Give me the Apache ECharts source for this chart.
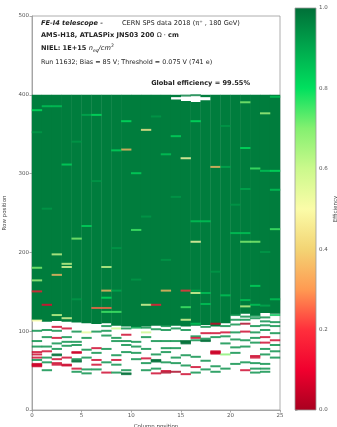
<!DOCTYPE html>
<html>
<head>
<meta charset="utf-8">
<script src="https://cdn.jsdelivr.net/npm/echarts@6/dist/echarts.min.js"></script>
<style>
  html, body { margin: 0; padding: 0; background: #fff; }
  #chart { width: 337px; height: 427px; }
</style>
</head>
<body>
<div id="chart"></div>
<script>
// pixel matrix: 25 columns x 400 rows
const nColumns = 25;
const rowTop = 400;
// first row of the fully populated block, per column
const denseStart = [114, 112, 113, 112, 111, 110, 109, 110, 107, 106, 105, 106, 107,
                    107, 107, 106, 107, 108, 106, 110, 121, 122, 120, 123, 122];
// empty rows at the top edge: [column, fromRow, toRow)
const topGaps = [[14, 394, 397], [15, 392, 398], [16, 391, 399], [17, 393, 397]];
// typical efficiency of a populated pixel
const baseEff = 0.975;

// pixels inside the block that deviate from baseEff: [column, row, efficiency]
const hotCells = [
  [24, 397, 0.85], [21, 390, 0.7], [1, 385, 0.85], [2, 385, 0.85], [0, 380, 0.8],
  [23, 376, 0.65], [5, 374, 0.9], [6, 374, 0.8], [9, 366, 0.8], [16, 366, 0.8],
  [11, 355, 0.45], [14, 347, 0.82], [21, 332, 0.8], [9, 330, 0.35], [8, 329, 0.82],
  [13, 324, 0.85], [15, 319, 0.5], [3, 311, 0.82], [18, 308, 0.35], [19, 308, 0.9],
  [22, 306, 0.75], [23, 303, 0.85], [24, 303, 0.8], [10, 300, 0.82], [24, 279, 0.85],
  [21, 280, 0.9], [16, 239, 0.85], [17, 239, 0.85], [5, 233, 0.82], [10, 228, 0.75],
  [24, 229, 0.75], [20, 224, 0.85], [21, 224, 0.85], [4, 217, 0.7], [16, 213, 0.5],
  [21, 213, 0.7], [22, 213, 0.7], [2, 197, 0.6], [3, 185, 0.6], [3, 181, 0.55],
  [0, 180, 0.7], [7, 181, 0.6], [2, 171, 0.35], [0, 164, 0.65], [22, 157, 0.82],
  [0, 150, 0.15], [7, 151, 0.35], [8, 151, 0.9], [13, 151, 0.35], [15, 151, 0.2],
  [16, 151, 0.9], [16, 148, 0.55], [17, 148, 0.85], [7, 142, 0.8], [24, 140, 0.85],
  [21, 139, 0.85], [19, 145, 0.85], [1, 133, 0.1], [11, 133, 0.55], [12, 133, 0.15],
  [17, 134, 0.85], [22, 133, 0.85], [6, 129, 0.25], [7, 129, 0.25], [15, 130, 0.75],
  [21, 131, 0.6], [23, 132, 0.9], [7, 124, 0.75], [8, 124, 0.75], [2, 120, 0.6],
  [3, 116, 0.55], [0, 113, 0.5],
  [0, 352, 0.93], [4, 340, 0.93], [12, 372, 0.93], [19, 360, 0.93], [6, 290, 0.93],
  [14, 270, 0.93], [1, 255, 0.93], [11, 245, 0.93], [20, 260, 0.93], [8, 205, 0.93],
  [13, 190, 0.93], [18, 175, 0.93], [23, 200, 0.93], [10, 165, 0.93], [4, 140, 0.93]
];

// isolated pixels below the block: [column, row, efficiency]
const sparseCells = [
  [0, 100, 0.95], [0, 87, 0.95], [0, 80, 0.95], [0, 73, 0.05], [0, 70, 0.05], [0, 66, 0.05],
  [0, 63, 0.95], [0, 58, 0.05], [0, 57, 0.05], [0, 56, 0.05], [0, 55, 0.05],
  [1, 101, 0.95], [1, 92, 0.95], [1, 80, 0.95], [1, 74, 0.05], [1, 66, 0.95],
  [1, 60, 0.95], [1, 50, 0.95],
  [2, 105, 0.05], [2, 100, 0.95], [2, 91, 0.05], [2, 84, 0.95], [2, 77, 0.95], [2, 70, 1.0],
  [2, 69, 1.0], [2, 64, 0.05], [2, 59, 0.05], [2, 57, 0.05],
  [3, 103, 0.05], [3, 92, 0.95], [3, 86, 0.95], [3, 81, 0.95], [3, 66, 0.05],
  [3, 57, 0.05], [3, 56, 0.05],
  [4, 99, 0.95], [4, 86, 0.95], [4, 82, 0.95], [4, 73, 0.05], [4, 72, 0.05],
  [4, 64, 0.95], [4, 62, 1.0], [4, 61, 1.0], [4, 52, 0.05], [4, 48, 0.95],
  [5, 98, 0.55], [5, 91, 0.95], [5, 76, 0.95], [5, 66, 0.95], [5, 51, 0.95],
  [5, 46, 0.95],
  [6, 99, 0.95], [6, 78, 0.05], [6, 72, 0.95], [6, 63, 0.05], [6, 57, 0.05],
  [6, 51, 0.95],
  [7, 106, 0.95], [7, 100, 0.95], [7, 94, 0.95], [7, 77, 0.95], [7, 60, 0.95], [7, 47, 0.05],
  [8, 103, 0.6], [8, 91, 0.95], [8, 87, 0.95], [8, 69, 0.95], [8, 63, 0.05],
  [8, 57, 0.95], [8, 47, 0.95],
  [9, 103, 0.95], [9, 95, 0.05], [9, 87, 0.95], [9, 82, 0.95], [9, 73, 0.95], [9, 50, 0.95],
  [9, 46, 1.0], [9, 45, 1.0],
  [10, 104, 0.9], [10, 86, 0.95], [10, 80, 0.95], [10, 72, 0.95], [10, 64, 0.95],
  [11, 104, 0.95], [11, 98, 0.6], [11, 92, 0.95], [11, 77, 0.95], [11, 65, 0.05], [11, 59, 0.95],
  [11, 50, 0.95],
  [12, 102, 0.95], [12, 87, 0.95], [12, 70, 0.95], [12, 63, 1.0], [12, 62, 1.0],
  [12, 61, 1.0], [12, 52, 0.95], [12, 46, 0.05],
  [13, 106, 0.95], [13, 101, 0.95], [13, 87, 0.95], [13, 78, 0.95], [13, 73, 0.95], [13, 60, 0.95],
  [13, 49, 0.05], [13, 47, 0.0],
  [14, 103, 0.95], [14, 87, 0.95], [14, 78, 0.95], [14, 66, 0.95], [14, 59, 0.95],
  [14, 48, 0.0],
  [15, 114, 0.55], [15, 101, 0.95], [15, 87, 1.0], [15, 86, 1.0], [15, 85, 1.0], [15, 84, 1.0],
  [15, 69, 0.95], [15, 56, 0.95], [15, 45, 0.05],
  [16, 109, 0.85], [16, 93, 0.95], [16, 91, 0.05], [16, 88, 0.95], [16, 67, 0.95],
  [16, 54, 0.05], [16, 47, 0.95],
  [17, 105, 0.95], [17, 97, 0.05], [17, 90, 0.95], [17, 88, 1.0], [17, 87, 1.0], [17, 62, 0.95],
  [17, 51, 0.95],
  [18, 109, 0.05], [18, 97, 0.05], [18, 92, 0.95], [18, 74, 0.05], [18, 73, 0.05], [18, 72, 0.05],
  [18, 71, 0.05], [18, 55, 0.95], [18, 48, 0.95],
  [19, 106, 0.95], [19, 98, 0.05], [19, 93, 0.95], [19, 84, 0.95], [19, 70, 0.7], [19, 52, 0.95],
  [20, 120, 0.95], [20, 114, 0.95], [20, 108, 0.95], [20, 98, 0.95], [20, 89, 0.95], [20, 79, 0.95],
  [20, 72, 0.95], [20, 58, 0.95],
  [21, 118, 0.95], [21, 114, 0.95], [21, 109, 0.0], [21, 99, 0.05], [21, 88, 0.95], [21, 80, 0.95],
  [21, 60, 0.95], [21, 50, 0.05],
  [22, 119, 0.95], [22, 116, 0.95], [22, 106, 0.95], [22, 98, 0.95], [22, 91, 0.95], [22, 85, 0.95],
  [22, 68, 0.05], [22, 66, 0.05], [22, 59, 0.95], [22, 52, 0.95], [22, 47, 0.95],
  [23, 117, 0.95], [23, 112, 0.95], [23, 107, 0.95], [23, 101, 0.95], [23, 92, 0.05], [23, 85, 0.05],
  [23, 77, 0.95], [23, 70, 0.95], [23, 58, 0.95], [23, 52, 0.95], [23, 48, 0.95],
  [24, 120, 0.85], [24, 111, 0.95], [24, 106, 0.95], [24, 97, 0.95], [24, 88, 0.05], [24, 82, 0.95],
  [24, 74, 0.95], [24, 66, 0.95]
];

// efficiency colour scale, evenly spaced from 0.0 to 1.0
const effColors = ['#a8001f', '#f0002e', '#ff2f3c', '#ff9a52', '#f3d474', '#fbfca8',
                   '#cbf98c', '#84f070', '#00e05e', '#00a84d', '#006f38'];

// populated blocks as runs [column, fromRow, toRow, efficiency]
const denseRuns = [];
for (let c = 0; c < nColumns; c++) {
  const gap = topGaps.find(g => g[0] === c);
  if (gap) {
    denseRuns.push([c, denseStart[c], gap[1], baseEff]);
    denseRuns.push([c, gap[2], rowTop, baseEff]);
  } else {
    denseRuns.push([c, denseStart[c], rowTop, baseEff]);
  }
}
const cellRuns = hotCells.concat(sparseCells).map(([c, r, e]) => [c, r, r + 1, e]);

const font = 'DejaVu Sans';
const textColor = '#222';

function renderCell(params, api) {
  const c = api.value(0);
  const tl = api.coord([c, api.value(2)]);
  const br = api.coord([c + 1, api.value(1)]);
  let y = tl[1];
  let h = br[1] - tl[1];
  let opacity = 1;
  // a single row is thinner than a screen pixel: draw it as a soft 2px line
  if (h < 2) { y -= (2 - h) / 2; h = 2; opacity = 0.8; }
  return {
    type: 'rect',
    shape: { x: tl[0] - 0.2, y: y, width: br[0] - tl[0] + 0.4, height: h },
    style: { fill: api.visual('color'), opacity: opacity }
  };
}

function renderColorbar(params, api) {
  const tl = api.coord([0, 1]);
  const br = api.coord([1, 0]);
  return {
    type: 'rect',
    shape: { x: tl[0], y: tl[1], width: br[0] - tl[0], height: br[1] - tl[1] },
    style: {
      fill: new echarts.graphic.LinearGradient(0, 1, 0, 0,
        effColors.map((color, i) => ({ offset: i / (effColors.length - 1), color }))),
      stroke: '#999',
      lineWidth: 0.8
    }
  };
}

const tickLabel = { fontSize: 5.5, color: '#555', fontFamily: font };
const nameStyle = { fontSize: 5.5, color: '#444', fontFamily: font };
const lineStyle = { color: '#999', width: 0.8 };

const chart = echarts.init(document.getElementById('chart'));

const option = {
  animation: false,
  grid: [
    { left: 32, top: 16, width: 248, height: 394, show: true, borderColor: '#999', borderWidth: 0.8, outerBoundsMode: 'none' },
    { left: 295, top: 8, width: 21, height: 402, outerBoundsMode: 'none' }
  ],
  xAxis: [
    {
      type: 'value', gridIndex: 0, min: 0, max: 25, interval: 5,
      name: 'Column position', nameLocation: 'middle', nameGap: 12, nameTextStyle: nameStyle,
      axisLine: { show: true, lineStyle }, axisTick: { show: true, length: 2.5, lineStyle },
      axisLabel: Object.assign({ margin: 3 }, tickLabel), splitLine: { show: false }
    },
    { type: 'value', gridIndex: 1, min: 0, max: 1, show: false }
  ],
  yAxis: [
    {
      type: 'value', gridIndex: 0, min: 0, max: 500, interval: 100,
      name: 'Row position', nameLocation: 'middle', nameGap: 19, nameTextStyle: nameStyle,
      axisLine: { show: true, lineStyle }, axisTick: { show: true, length: 2.5, lineStyle },
      axisLabel: Object.assign({ margin: 3 }, tickLabel), splitLine: { show: false }
    },
    {
      type: 'value', gridIndex: 1, min: 0, max: 1, interval: 0.2, position: 'right',
      name: 'Efficiency', nameLocation: 'middle', nameGap: 17, nameTextStyle: nameStyle,
      axisLine: { show: false }, axisTick: { show: true, length: 2.5, lineStyle },
      axisLabel: Object.assign({ margin: 3, formatter: v => v.toFixed(1) }, tickLabel),
      splitLine: { show: false }
    }
  ],
  visualMap: {
    type: 'continuous', show: false, min: 0, max: 1, dimension: 3,
    seriesIndex: [0, 1], inRange: { color: effColors }
  },
  series: [
    {
      type: 'custom', name: 'block', xAxisIndex: 0, yAxisIndex: 0, silent: true,
      encode: { x: 0, y: [1, 2] }, renderItem: renderCell, data: denseRuns
    },
    {
      type: 'custom', name: 'cells', xAxisIndex: 0, yAxisIndex: 0, silent: true,
      encode: { x: 0, y: [1, 2] }, renderItem: renderCell, data: cellRuns
    },
    {
      type: 'custom', name: 'colorbar', xAxisIndex: 1, yAxisIndex: 1, silent: true,
      encode: { x: 0, y: [1, 2] }, renderItem: renderColorbar, data: [[0, 0, 1]]
    }
  ],
  graphic: [
    { type: 'text', x: 41, y: 23, style: { text: 'FE-I4 telescope -', fontFamily: font, fontSize: 6.6, fontWeight: 'bold', fontStyle: 'italic', fill: textColor, verticalAlign: 'middle' } },
    { type: 'text', x: 122, y: 23, style: { text: 'CERN SPS data 2018 (π⁺ , 180 GeV)', fontFamily: font, fontSize: 6.6, fill: textColor, verticalAlign: 'middle' } },
    {
      type: 'text', x: 41, y: 35,
      style: {
        text: '{b|AMS-H18, ATLASPix JNS03 200 }{n|Ω · }{b|cm}',
        fontFamily: font, fontSize: 6.6, fill: textColor, verticalAlign: 'middle',
        rich: {
          b: { fontFamily: font, fontSize: 6.6, fontWeight: 'bold', fill: textColor },
          n: { fontFamily: font, fontSize: 6.6, fill: textColor }
        }
      }
    },
    {
      type: 'text', x: 41, y: 48,
      style: {
        text: '{b|NIEL: 1E+15 }{i|n}{sub|eq}{i|/cm}{sup|2}',
        fontFamily: font, fontSize: 6.6, fill: textColor, verticalAlign: 'middle',
        rich: {
          b: { fontFamily: font, fontSize: 6.6, fontWeight: 'bold', fill: textColor, lineHeight: 10 },
          i: { fontFamily: font, fontSize: 6.6, fontStyle: 'italic', fill: textColor, lineHeight: 10 },
          sub: { fontFamily: font, fontSize: 4.6, fontStyle: 'italic', fill: textColor, verticalAlign: 'bottom', lineHeight: 10 },
          sup: { fontFamily: font, fontSize: 4.6, fill: textColor, verticalAlign: 'top', lineHeight: 10 }
        }
      }
    },
    { type: 'text', x: 41, y: 62, style: { text: 'Run 11632; Bias = 85 V; Threshold = 0.075 V (741 e)', fontFamily: font, fontSize: 6.4, fill: textColor, verticalAlign: 'middle' } },
    { type: 'text', x: 250, y: 83, style: { text: 'Global efficiency = 99.55%', fontFamily: font, fontSize: 6.6, fontWeight: 'bold', fill: textColor, align: 'right', verticalAlign: 'middle' } }
  ]
};

chart.setOption(option);

window.addEventListener('resize', () => {
  chart && chart.resize();
});
</script>
</body>
</html>
